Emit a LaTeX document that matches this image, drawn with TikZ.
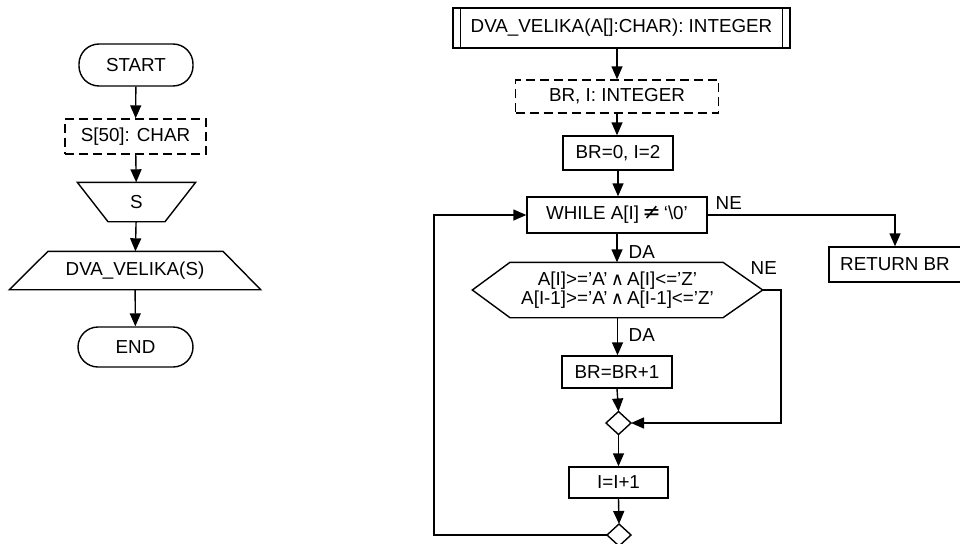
\documentclass[tikz,border=0pt]{standalone}
\usepackage{fontspec}
\setmainfont{Liberation Sans}
\newfontfamily\symfont{DejaVu Sans}
\usetikzlibrary{arrows.meta,calc}
\newcommand{\myneq}{{\symfont\fontsize{22}{17}\selectfont ≠}}
\newcommand{\myand}{{\symfont\fontsize{18}{17}\selectfont ∧}}
\begin{document}
\begin{tikzpicture}[x=1pt,y=-1pt,line width=1.4pt,
  every node/.style={font=\fontsize{18.8}{17}\selectfont,inner sep=0pt},
  arr/.style={-{Triangle[length=13pt,width=11pt]}},
  term/.style={draw,rounded corners=20pt},
  proc/.style={draw},
  decl/.style={draw,dash pattern=on 9pt off 5pt},
  lbl/.style={anchor=west}]
\useasboundingbox (0,0) rectangle (960,543);
% ---------- left flow ----------
\node[term,minimum width=114pt,minimum height=42pt] (start) at (136,65) {START};
\node[decl,minimum width=141pt,minimum height=35pt] (sdecl) at (135.5,136.5) {S[50]: CHAR};
\node[minimum width=117pt,minimum height=38pt] (inp) at (136.5,202) {S};
\draw (inp.north west) -- (inp.north east) -- ($(inp.south)+(28.5,0)$) -- ($(inp.south)+(-28.5,0)$) -- cycle;
\node[minimum width=250pt,minimum height=37pt] (outp) at (135,270.5) {DVA\_VELIKA(S)};
\draw ($(outp.north)+(-87,0)$) -- ($(outp.north)+(88,0)$) -- (outp.south east) -- (outp.south west) -- cycle;
\node[term,minimum width=115pt,minimum height=40pt] (end) at (135.5,347) {END};
\draw[arr] (start) -- (sdecl);
\draw[arr] (sdecl) -- (inp);
\draw[arr] (inp) -- (outp);
\draw[arr] (outp) -- (end);
% ---------- right flow ----------
\node[proc,minimum width=337pt,minimum height=40pt] (func) at (621.5,28) {DVA\_VELIKA(A[]:CHAR): INTEGER};
\draw ($(func.north west)+(8,0)$) -- ($(func.south west)+(8,0)$);
\draw ($(func.north east)+(-8,0)$) -- ($(func.south east)+(-8,0)$);
\node[decl,minimum width=203pt,minimum height=33pt] (vars) at (617,96.5) {BR, I: INTEGER};
\node[proc,minimum width=110pt,minimum height=34pt] (init) at (618,153) {BR=0, I=2};
\node[proc,minimum width=180pt,minimum height=36pt] (while) at (617,215) {WHILE A[I]\,\myneq\,‘\textbackslash 0’};
\node[proc,minimum width=132pt,minimum height=35pt] (ret) at (895,264.5) {RETURN BR};
\node[align=center,minimum width=289pt,minimum height=54pt] (hex) at (617.5,290)
  {A[I]>=’A’\,\myand\,A[I]<=’Z’\\A[I-1]>=’A’\,\myand\,A[I-1]<=’Z’};
\draw (hex.west) -- ($(hex.north)+(-107.5,0)$) -- ($(hex.north)+(105.5,0)$) -- (hex.east)
  -- ($(hex.south)+(105.5,0)$) -- ($(hex.south)+(-107.5,0)$) -- cycle;
\node[proc,minimum width=110pt,minimum height=32pt] (inc) at (617,372) {BR=BR+1};
\coordinate (m1) at (618.5,423);
\coordinate (m1n) at (618.5,411.5);
\coordinate (m1s) at (618.5,434.5);
\coordinate (m1e) at (631,423);
\coordinate (m1w) at (606,423);
\draw (m1n) -- (m1e) -- (m1s) -- (m1w) -- cycle;
\node[proc,minimum width=99pt,minimum height=31pt] (inc2) at (618.5,482.5) {I=I+1};
\coordinate (m2n) at (619,524);
\coordinate (m2s) at (619,546);
\coordinate (m2e) at (631,535);
\coordinate (m2w) at (607,535);
\draw (m2n) -- (m2e) -- (m2s) -- (m2w) -- cycle;
% connectors
\draw[arr] (func.south -| vars.north) -- (vars.north);
\draw[arr] (vars.south) -- (vars.south |- init.north);
\draw[arr] (init) -- (init |- while.north);
\draw[arr] (while.south) -- (while.south |- hex.north);
\draw[arr] (hex.south) -- (hex.south |- inc.north);
\draw[arr] (inc.south) -- (m1n);
\draw[arr] (m1s) -- (inc2.north);
\draw[arr] (inc2.south) -- (m2n);
\coordinate (nec) at (781,290);
\draw[arr] (hex.east) -- (nec) |- (m1e);
\coordinate (retc) at (895,215);
\draw[arr] (while.east) -- (retc) -- (ret.north);
\coordinate (loopc) at (434,535);
\draw[arr] (m2w) -- (loopc) |- (while.west);
% labels
\node[lbl] (da1) at (628,252) {DA};
\node[lbl] (da2) at (628,335) {DA};
\node[lbl] (ne1) at (715,203) {NE};
\node[lbl] (ne2) at (750,268) {NE};
\end{tikzpicture}
\end{document}
